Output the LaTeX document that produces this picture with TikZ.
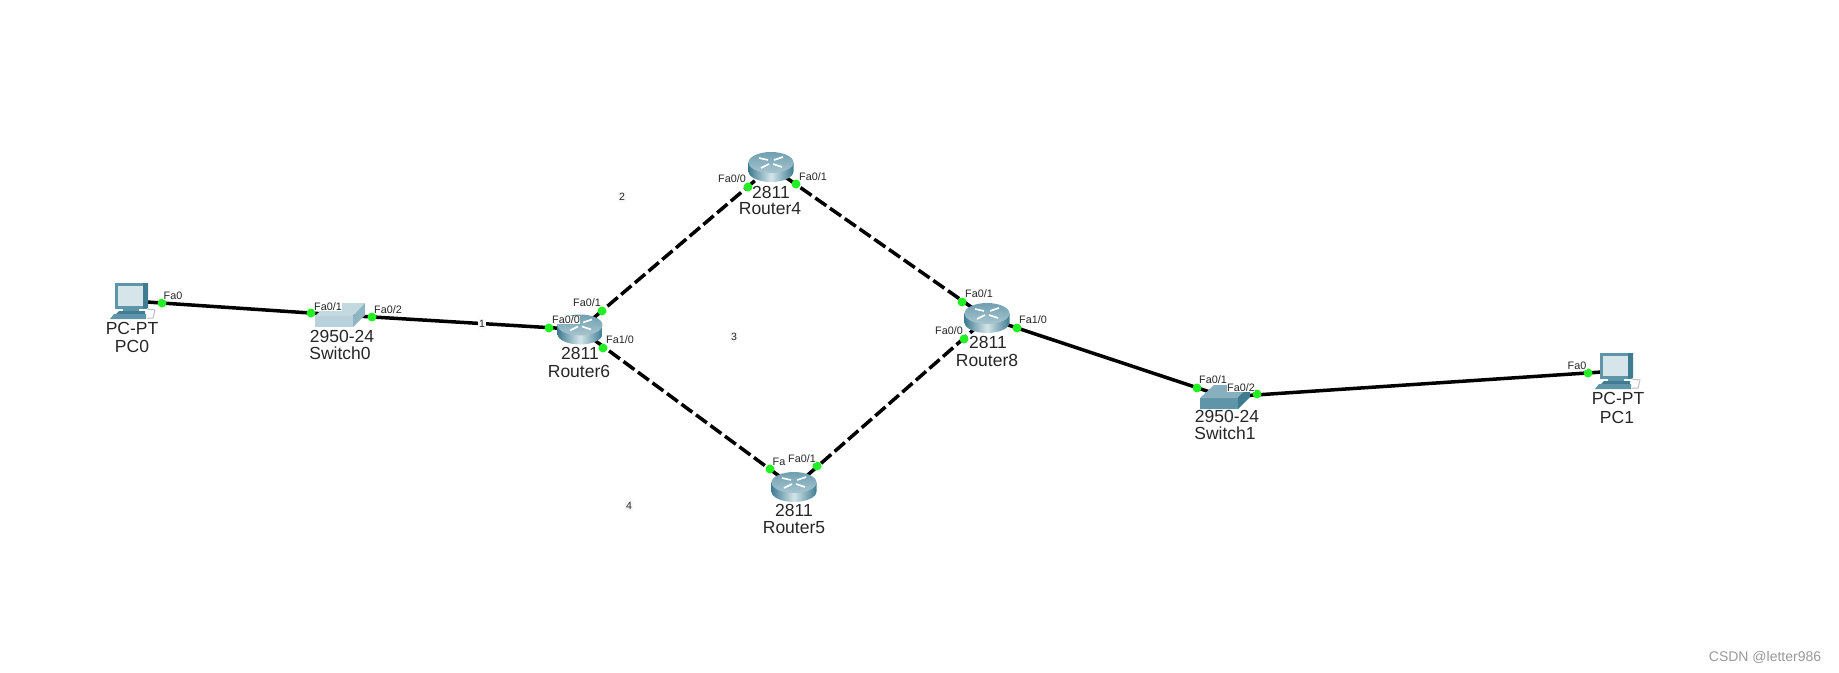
\documentclass[tikz,border=0pt]{standalone}
\usepackage{fontspec}
\setmainfont{Liberation Sans}
\usetikzlibrary{calc}

\definecolor{devteal}{HTML}{5F95A8}
\definecolor{devdark}{HTML}{3F7C91}
\definecolor{devlight}{HTML}{D5E5EA}
\definecolor{portgreen}{HTML}{22F022}

\tikzset{
  cable/.style={line width=3.5pt,black},
  wancable/.style={cable,dash pattern=on 13.5pt off 4.5pt},
  portdot/.style={circle,fill=portgreen,inner sep=0pt,minimum size=9pt},
  portlabel/.style={font=\fontsize{10.8}{11}\selectfont,fill=white,inner sep=0.4pt,text=black!85},
  devlabel/.style={font=\fontsize{17.5}{18}\selectfont,inner sep=0pt,text=black!85},
  numlabel/.style={font=\fontsize{10.5}{10}\selectfont,fill=black!3,inner sep=1pt,text=black!85},
  pics/routericon/.style={code={
    \path[left color=devdark,right color=devdark,middle color=devlight]
      (-22.5,-4.5) -- (-22.5,4.5) arc[start angle=180,end angle=0,x radius=22.5,y radius=10.5]
      -- (22.5,-4.5) -- cycle;
    \path[top color=devteal!90!white,bottom color=devteal!55!white]
      (0,-4.5) ellipse[x radius=22.5,y radius=10.5];
    \draw[white,line width=1.6pt]
      (-12,-9)--(-3,-7) (12,-10)--(3,-7) (-10,1)--(-2,-3) (11,0)--(2,-3);
  }},
  pics/switchicon/.style n args={3}{code={
    \fill[#1] (-25,1) rectangle (13,12);
    \fill[#2] (-25,1) -- (-11,-12) -- (25,-12) -- (13,1) -- cycle;
    \fill[#3] (13,1) -- (25,-12) -- (25,0) -- (13,12) -- cycle;
  }},
  pics/pcicon/.style={code={
    \draw[black!25,line width=1pt] (15,8) -- (23,9) -- (21,17) -- (15,17);
    \fill[devteal] (-9,8) rectangle (7,11);
    \fill[devdark] (-16,13) -- (-13,10) -- (13,10) -- (13,13) -- cycle;
    \fill[devteal] (-22,18) -- (-18,13) -- (14,13) -- (14,18) -- cycle;
    \fill[devteal] (-17,-18) rectangle (15,8);
    \fill[devdark] (11,-18) -- (16,-18) -- (16,7) -- (11,8) -- cycle;
    \fill[devlight] (-14,-15) rectangle (11,5);
  }}
}

\begin{document}
\begin{tikzpicture}[x=1pt,y=-1pt]
\useasboundingbox (0,0) rectangle (1839,672);

\coordinate (pc0) at (132,301);
\coordinate (switch0) at (340,315);
\coordinate (router6) at (580,329.5);
\coordinate (router4) at (771,167);
\coordinate (router5) at (794,487);
\coordinate (router8) at (987,318);
\coordinate (switch1) at (1225,397);
\coordinate (pc1) at (1617,371);

\draw[cable] (pc0)--(switch0);
\draw[cable] (switch0)--(router6);
\draw[wancable] (router6)--(router4);
\draw[wancable] (router4)--(router8);
\draw[wancable] (router6)--(router5);
\draw[wancable] (router5)--(router8);
\draw[cable] (router8)--(switch1);
\draw[cable] (switch1)--(pc1);

\pic at (pc0) {pcicon};
\pic at (switch0) {switchicon={devlight!75!devteal}{devlight!85!devteal}{devteal!70!white}};
\pic at (router6) {routericon};
\pic at (router4) {routericon};
\pic at (router5) {routericon};
\pic at (router8) {routericon};
\pic at (switch1) {switchicon={devteal}{devteal!75!white}{devdark}};
\pic at (pc1) {pcicon};

% port dots
\node[portdot] (p0a) at (162,303) {};
\node[portdot] (s0a) at (311,313) {};
\node[portdot] (s0b) at (372,317) {};
\node[portdot] (r6a) at (549,328) {};
\node[portdot] (r6b) at (602,311) {};
\node[portdot] (r6c) at (603,348) {};
\node[portdot] (r4a) at (748,187) {};
\node[portdot] (r4b) at (796,184) {};
\node[portdot] (r5a) at (770,469) {};
\node[portdot] (r5b) at (817,466) {};
\node[portdot] (r8a) at (964,339) {};
\node[portdot] (r8b) at (962,302) {};
\node[portdot] (r8c) at (1017,328) {};
\node[portdot] (s1a) at (1197,388) {};
\node[portdot] (s1b) at (1257,394) {};
\node[portdot] (p1a) at (1588,373) {};

% port labels
\node[portlabel] (l0) at (173,296) {Fa0};
\node[portlabel] (l1) at (328,307) {Fa0/1};
\node[portlabel] (l2) at (388,310) {Fa0/2};
\node[portlabel] (l3) at (566,320) {Fa0/0};
\node[portlabel] (l4) at (587,303) {Fa0/1};
\node[portlabel] (l5) at (620,340) {Fa1/0};
\node[portlabel] (l6) at (732,179) {Fa0/0};
\node[portlabel] (l7) at (813,177) {Fa0/1};
\node[portlabel] (l8) at (779,462) {Fa};
\node[portlabel] (l9) at (802,459) {Fa0/1};
\node[portlabel] (l10) at (949,331) {Fa0/0};
\node[portlabel] (l11) at (979,294) {Fa0/1};
\node[portlabel] (l12) at (1033,320) {Fa1/0};
\node[portlabel] (l13) at (1213,380) {Fa0/1};
\node[portlabel] (l14) at (1241,388) {Fa0/2};
\node[portlabel] (l15) at (1577,366) {Fa0};

% device names
\node[devlabel] (t0) at (132,328) {PC-PT};
\node[devlabel] (n0) at (132,346) {PC0};
\node[devlabel] (t1) at (342,336) {2950-24};
\node[devlabel] (n1) at (340,353) {Switch0};
\node[devlabel] (t2) at (580,353) {2811};
\node[devlabel] (n2) at (579,371) {Router6};
\node[devlabel] (t3) at (771,192) {2811};
\node[devlabel] (n3) at (770,209) {Router4};
\node[devlabel] (t4) at (794,510) {2811};
\node[devlabel] (n4) at (794,528) {Router5};
\node[devlabel] (t5) at (988,342) {2811};
\node[devlabel] (n5) at (987,360) {Router8};
\node[devlabel] (t6) at (1227,416) {2950-24};
\node[devlabel] (n6) at (1225,433) {Switch1};
\node[devlabel] (t7) at (1618,398) {PC-PT};
\node[devlabel] (n7) at (1617,417) {PC1};

% network numbers
\node[numlabel] (net1) at (482,324) {1};
\node[numlabel] (net2) at (622,197) {2};
\node[numlabel] (net3) at (734,337) {3};
\node[numlabel] (net4) at (629,506) {4};

\node[font=\fontsize{14}{15}\selectfont,text=black!40,inner sep=0pt] (mark) at (1765,657) {CSDN @letter986};
\end{tikzpicture}
\end{document}
